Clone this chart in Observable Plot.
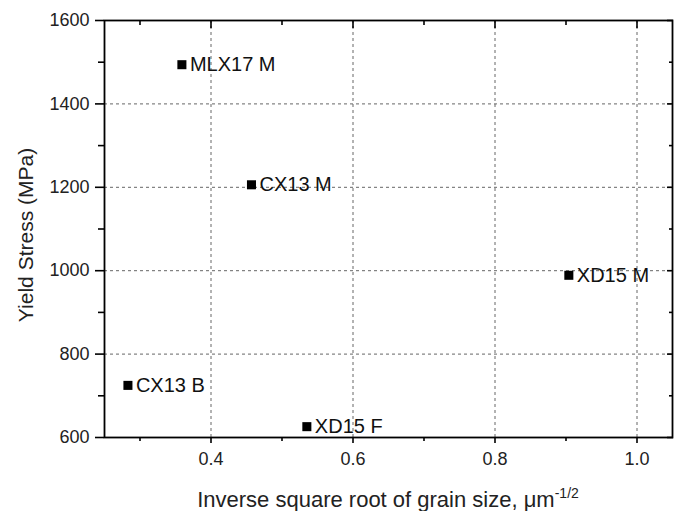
<!DOCTYPE html>
<html>
<head>
<meta charset="utf-8">
<script src="https://cdn.jsdelivr.net/npm/d3@7"></script>
<script src="https://cdn.jsdelivr.net/npm/@observablehq/plot@0.6"></script>
<style>
  html, body { margin: 0; padding: 0; background: #fff; }
  #chart { width: 678px; height: 511px; }
</style>
</head>
<body>
<div id="chart"></div>
<script>
const names = ["MLX17 M", "CX13 M", "XD15 M", "CX13 B", "XD15 F"];
const grainInv = [0.359, 0.457, 0.904, 0.283, 0.535];
const yieldStress = [1494, 1206, 989, 725, 626];

const xMajor = [0.4, 0.6, 0.8, 1.0];
const xMinor = [0.3, 0.5, 0.7, 0.9];
const yMajor = [600, 800, 1000, 1200, 1400, 1600];
const yMinor = [700, 900, 1100, 1300, 1500];
const yGrid = [800, 1000, 1200, 1400];

const xLabel = "Inverse square root of grain size, μm";
const xLabelSup = "-1/2";
const yLabel = "Yield Stress (MPa)";

const data = names.map((n, i) => ({name: n, x: grainInv[i], y: yieldStress[i]}));

const font = "Arial, 'Liberation Sans', sans-serif";

const chart = Plot.plot({
  width: 678,
  height: 511,
  marginLeft: 104,
  marginRight: 6,
  marginTop: 20,
  marginBottom: 74,
  style: {fontFamily: font, fontSize: "18px", color: "#222", background: "#fff"},
  x: {domain: [0.25, 1.05]},
  y: {domain: [600, 1600]},
  marks: [
    Plot.gridX(xMajor, {stroke: "#666", strokeOpacity: 1, strokeDasharray: "3,3", strokeWidth: 1}),
    Plot.gridY(yGrid, {stroke: "#666", strokeOpacity: 1, strokeDasharray: "3,3", strokeWidth: 1}),
    // bottom axis
    Plot.axisX({ticks: xMajor, tickFormat: d3.format(".1f"), tickSize: 6, tickPadding: 9, label: null, stroke: "#000", strokeWidth: 1.6, fontSize: 18, fill: "#222"}),
    Plot.axisX({ticks: xMinor, tickSize: 4, text: null, label: null, stroke: "#000", strokeWidth: 1.6}),
    // top axis (inward)
    Plot.axisX({anchor: "top", ticks: xMajor, tickSize: 7, dy: 7, text: null, label: null, stroke: "#000", strokeWidth: 1.6}),
    Plot.axisX({anchor: "top", ticks: xMinor, tickSize: 4, dy: 4, text: null, label: null, stroke: "#000", strokeWidth: 1.6}),
    // left axis
    Plot.axisY({ticks: yMajor, tickFormat: d3.format("d"), tickSize: 9, tickPadding: 6, label: null, stroke: "#000", strokeWidth: 1.6, fontSize: 18, fill: "#222"}),
    Plot.axisY({ticks: yMinor, tickSize: 6, text: null, label: null, stroke: "#000", strokeWidth: 1.6}),
    // right axis (inward)
    Plot.axisY({anchor: "right", ticks: yMajor, tickSize: 6, dx: -6, text: null, label: null, stroke: "#000", strokeWidth: 1.6}),
    Plot.axisY({anchor: "right", ticks: yMinor, tickSize: 4, dx: -4, text: null, label: null, stroke: "#000", strokeWidth: 1.6}),
    Plot.frame({stroke: "#000", strokeWidth: 1.8}),
    Plot.dot(data, {x: "x", y: "y", symbol: "square", r: 5.1, fill: "#000", stroke: "none"}),
    Plot.text(data, {x: "x", y: "y", text: "name", textAnchor: "start", dx: 8, fontSize: 20, fill: "#111"})
  ]
});

const svg = d3.select(chart);
svg.selectAll('g[aria-label$="tick label"]').attr("font-size", 18).attr("fill", "#222");

// x label with superscript
const xl = svg.append("text")
  .attr("x", (104 + 672) / 2)
  .attr("y", 507)
  .attr("text-anchor", "middle")
  .attr("font-family", font)
  .attr("font-size", 22)
  .attr("fill", "#222");
xl.append("tspan").text(xLabel);
xl.append("tspan").attr("dy", -9).attr("font-size", 14).text(xLabelSup);

// y label
svg.append("text")
  .attr("transform", `translate(33, 235) rotate(-90)`)
  .attr("text-anchor", "middle")
  .attr("font-family", font)
  .attr("font-size", 21)
  .attr("fill", "#222")
  .text(yLabel);

document.getElementById("chart").appendChild(chart);
</script>
</body>
</html>
